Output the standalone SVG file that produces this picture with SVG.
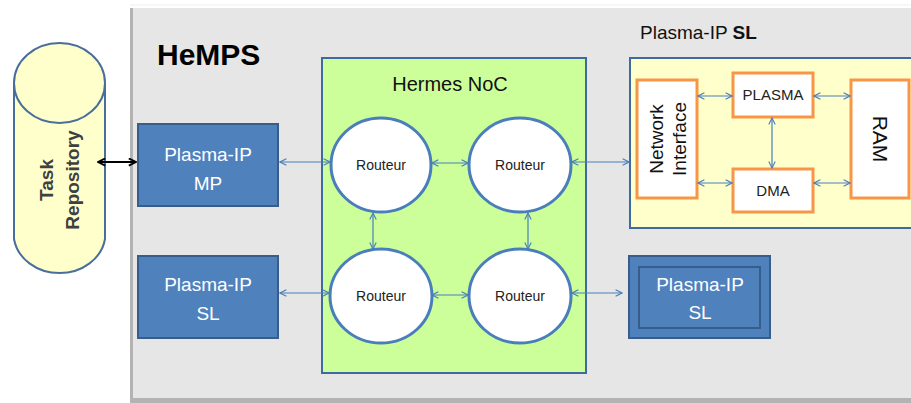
<svg xmlns="http://www.w3.org/2000/svg" width="911" height="403" viewBox="0 0 911 403">
<defs>
<marker id="oa" viewBox="0 0 10 10" refX="9" refY="5" markerWidth="8" markerHeight="8" markerUnits="userSpaceOnUse" orient="auto-start-reverse">
<path d="M1,1 L9,5 L1,9" fill="none" stroke="#4a7ebb" stroke-width="1.4"/>
</marker>
<marker id="ba" viewBox="0 0 10 10" refX="9" refY="5" markerWidth="9" markerHeight="9" markerUnits="userSpaceOnUse" orient="auto-start-reverse">
<path d="M1,1 L9,5 L1,9" fill="none" stroke="#000" stroke-width="2"/>
</marker>
</defs>
<style>
.f{font-family:"Liberation Sans","Open Sans",Arial,sans-serif}
.blue{fill:#4f81bd;stroke:#385d8a;stroke-width:2}
.wt{fill:#fff;font-size:19px;text-anchor:middle}
.rt{fill:#fff;stroke:#4a7ebb;stroke-width:3}
.rl{font-size:14px;fill:#222;text-anchor:middle}
.ob{fill:#fff;stroke:#f79646;stroke-width:3}
.ol{font-size:15px;fill:#222;text-anchor:middle}
.c{fill:none;stroke:#4a7ebb;stroke-width:1.2;marker-start:url(#oa);marker-end:url(#oa)}
</style>
<rect width="911" height="403" fill="#fff"/>
<line x1="130" y1="5" x2="911" y2="5" stroke="#eeeeee" stroke-width="1"/>
<g id="hemps">
<rect x="130" y="8" width="790" height="395" fill="#b3b3b3"/>
<rect x="133" y="8" width="780" height="390" fill="#e6e6e6"/>
<text class="f" x="157" y="65" font-size="30" font-weight="bold" fill="#000">HeMPS</text>
</g>
<g id="task-repository">
<path d="M14,83 L14,239 A46,40 0 0 0 105,239 L105,83" fill="#ffffcc" stroke="#4a6e9c" stroke-width="2"/>
<ellipse cx="59.5" cy="83" rx="45.5" ry="40" fill="#ffffcc" stroke="#4a6e9c" stroke-width="2"/>
<text class="f" transform="translate(59,180) rotate(-90)" font-size="19" font-weight="bold" fill="#404040" text-anchor="middle"><tspan x="0" y="-6">Task</tspan><tspan x="0" y="20">Repository</tspan></text>
</g>
<g id="plasma-mp">
<rect class="blue" x="138" y="124" width="140" height="82"/>
<text class="f wt" x="208" y="161">Plasma-IP</text>
<text class="f wt" x="208" y="190">MP</text>
</g>
<g id="plasma-sl-left">
<rect class="blue" x="138" y="256" width="140" height="82"/>
<text class="f wt" x="208" y="291">Plasma-IP</text>
<text class="f wt" x="208" y="320">SL</text>
</g>
<g id="hermes-noc">
<rect x="322" y="58" width="264" height="315" fill="#ccff99" stroke="#3f6aa0" stroke-width="2"/>
<text class="f" x="450" y="91" font-size="20" fill="#111" text-anchor="middle">Hermes NoC</text>
</g>
<g id="routeur-tl">
<ellipse class="rt" cx="381" cy="165" rx="50" ry="47"/>
<text class="f rl" x="381" y="170">Routeur</text>
</g>
<g id="routeur-tr">
<ellipse class="rt" cx="520" cy="165" rx="51" ry="47"/>
<text class="f rl" x="520" y="170">Routeur</text>
</g>
<g id="routeur-bl">
<ellipse class="rt" cx="381" cy="296" rx="51" ry="47"/>
<text class="f rl" x="381" y="301">Routeur</text>
</g>
<g id="routeur-br">
<ellipse class="rt" cx="520" cy="296" rx="51" ry="47"/>
<text class="f rl" x="520" y="301">Routeur</text>
</g>
<g id="plasma-sl-detail">
<text class="f" x="640" y="39" font-size="19" fill="#111">Plasma-IP <tspan font-weight="bold">SL</tspan></text>
<rect x="630" y="58" width="290" height="170" fill="#ffffcc" stroke="#3f6aa0" stroke-width="2"/>
</g>
<g id="network-interface">
<rect class="ob" x="637" y="80" width="60" height="118"/>
<text class="f" transform="translate(667,139) rotate(-90)" font-size="19" fill="#111" text-anchor="middle"><tspan x="0" y="-4">Network</tspan><tspan x="0" y="19">Interface</tspan></text>
</g>
<g id="plasma">
<rect class="ob" x="733" y="73" width="80" height="44"/>
<text class="f ol" x="773" y="100">PLASMA</text>
</g>
<g id="dma">
<rect class="ob" x="733" y="169" width="80" height="43"/>
<text class="f ol" x="773" y="196">DMA</text>
</g>
<g id="ram">
<rect class="ob" x="851" y="80" width="58" height="118"/>
<text class="f" transform="translate(880,139) rotate(90)" font-size="21" fill="#111" text-anchor="middle" y="7">RAM</text>
</g>
<g id="plasma-sl-right">
<rect class="blue" x="629" y="256" width="141" height="82"/>
<rect x="639" y="267" width="121" height="61" fill="#4f81bd" stroke="#385d8a" stroke-width="2"/>
<text class="f wt" x="700" y="291">Plasma-IP</text>
<text class="f wt" x="700" y="319">SL</text>
</g>
<g id="connectors">
<line x1="98" y1="162" x2="136" y2="162" stroke="#000" stroke-width="2" marker-start="url(#ba)" marker-end="url(#ba)"/>
<line class="c" x1="280" y1="162" x2="330" y2="162"/>
<line class="c" x1="280" y1="293" x2="329" y2="293"/>
<line class="c" x1="432" y1="163" x2="468" y2="163"/>
<line class="c" x1="432" y1="295" x2="468" y2="295"/>
<line class="c" x1="373" y1="213" x2="373" y2="249"/>
<line class="c" x1="528" y1="213" x2="528" y2="249"/>
<line class="c" x1="572" y1="162" x2="629" y2="162"/>
<line class="c" x1="572" y1="293" x2="622" y2="293"/>
<line class="c" x1="698" y1="96" x2="732" y2="96"/>
<line class="c" x1="698" y1="183" x2="732" y2="183"/>
<line class="c" x1="814" y1="96" x2="850" y2="96"/>
<line class="c" x1="814" y1="183" x2="850" y2="183"/>
<line class="c" x1="772" y1="118" x2="772" y2="168"/>
</g>
</svg>
